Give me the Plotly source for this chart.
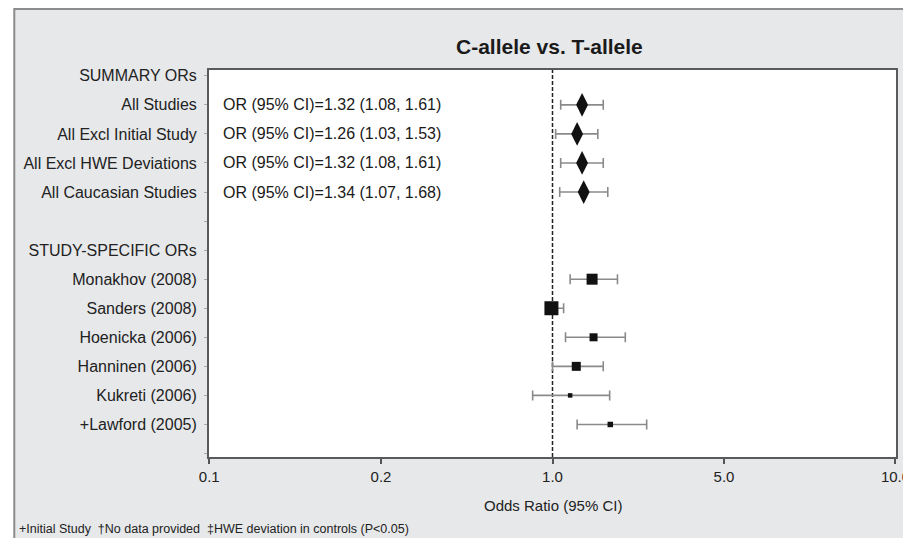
import plotly.graph_objects as go

# ---------------- data ----------------
row_labels = ["SUMMARY ORs", "All Studies", "All Excl Initial Study",
              "All Excl HWE Deviations", "All Caucasian Studies", "",
              "STUDY-SPECIFIC ORs", "Monakhov (2008)", "Sanders (2008)",
              "Hoenicka (2006)", "Hanninen (2006)", "Kukreti (2006)",
              "+Lawford (2005)", ""]

summary_names = ["All Studies", "All Excl Initial Study",
                 "All Excl HWE Deviations", "All Caucasian Studies"]
summary_or = [1.32, 1.26, 1.32, 1.34]
summary_lo = [1.08, 1.03, 1.08, 1.07]
summary_hi = [1.61, 1.53, 1.61, 1.68]

study_names = ["Monakhov (2008)", "Sanders (2008)", "Hoenicka (2006)",
               "Hanninen (2006)", "Kukreti (2006)", "+Lawford (2005)"]
study_or = [1.45, 0.99, 1.47, 1.25, 1.18, 1.72]
study_lo = [1.18, 0.94, 1.13, 1.00, 0.83, 1.26]
study_hi = [1.84, 1.11, 1.98, 1.61, 1.71, 2.42]
study_weight = [0.70, 1.0, 0.40, 0.50, 0.05, 0.15]

x_tick_vals = [0.0399, 0.2, 1.0, 5.0, 25.0]
x_tick_text = ["0.1", "0.2", "1.0", "5.0", "10.0"]

title_text = "C-allele vs. T-allele"
x_title = "Odds Ratio (95% CI)"
footnote = "+Initial Study  \u2020No data provided  \u2021HWE deviation in controls (P<0.05)"

# ---------------- figure ----------------
# The page body keeps its default 8 px margin (figure origin at window (8, 8));
# the page is 8 px wider than the window, so horizontal positions are
# pre-stretched by K to land where intended in the captured picture.
OFF = 8
W, H = 911, 538
K = (W + OFF) / W
def fx(v):          # window x -> figure x
    return v * K - OFF
def fy(v):          # window y -> figure y
    return v - OFF

PL, PR, PT, PB = 207, 902, 70, 457          # plot box in window pixels
ML = round(fx(PL), 1)
MR = round(W - fx(PR), 1)
MT = fy(PT)
MB = H - fy(PB)
FONT = "Liberation Sans, Arial, Helvetica, sans-serif"

pw, ph = W - ML - MR, H - MT - MB
def px_x(v):        # window x -> paper x
    return (fx(v) - ML) / pw
def px_y(v):        # window y -> paper y
    return (H - MB - fy(v)) / ph

row_index = {name: i for i, name in enumerate(row_labels) if name}

fig = go.Figure()

sy = [row_index[n] for n in summary_names]
fig.add_trace(go.Scatter(
    x=summary_or, y=sy, mode="markers",
    marker=dict(symbol="diamond-tall", size=17, color="#111111", opacity=1,
                line=dict(width=0)),
    error_x=dict(type="data", symmetric=False,
                 array=[h - o for h, o in zip(summary_hi, summary_or)],
                 arrayminus=[o - l for o, l in zip(summary_or, summary_lo)],
                 color="#8a8a8a", thickness=1.6, width=5),
    hoverinfo="skip", showlegend=False))

ty = [row_index[n] for n in study_names]
fig.add_trace(go.Scatter(
    x=study_or, y=ty, mode="markers",
    marker=dict(symbol="square", size=[4 + 10 * w for w in study_weight],
                color="#111111", opacity=1, line=dict(width=0)),
    error_x=dict(type="data", symmetric=False,
                 array=[h - o for h, o in zip(study_hi, study_or)],
                 arrayminus=[o - l for o, l in zip(study_or, study_lo)],
                 color="#8a8a8a", thickness=1.6, width=5),
    hoverinfo="skip", showlegend=False))

# OR text annotations
for name, o, l, h in zip(summary_names, summary_or, summary_lo, summary_hi):
    fig.add_annotation(xref="paper", yref="y", x=px_x(219), y=row_index[name],
                       text=f"OR (95% CI)={o:.2f} ({l:.2f}, {h:.2f})",
                       showarrow=False, xanchor="left", yanchor="middle",
                       font=dict(family=FONT, size=16, color="#1a1a1a"))

# reference line at OR = 1
fig.add_shape(type="line", xref="x", yref="paper", x0=1, x1=1, y0=0, y1=1,
              line=dict(color="#222222", width=1.5, dash="4px,2px"), layer="below")

# outer panel: white strips outside the gray frame, and frame border lines
fig.add_shape(type="rect", xref="paper", yref="paper",
              x0=px_x(-20), x1=px_x(10), y0=px_y(H + 20), y1=px_y(-20),
              fillcolor="white", line=dict(width=0), layer="below")
fig.add_shape(type="rect", xref="paper", yref="paper",
              x0=px_x(-20), x1=px_x(W + 20), y0=px_y(8), y1=px_y(-20),
              fillcolor="white", line=dict(width=0), layer="below")
fig.add_shape(type="rect", xref="paper", yref="paper",
              x0=px_x(910), x1=px_x(W + 20), y0=px_y(H + 20), y1=px_y(-20),
              fillcolor="white", line=dict(width=0), layer="below")
fig.add_shape(type="line", xref="paper", yref="paper",
              x0=px_x(10), x1=px_x(10), y0=px_y(H + 20), y1=px_y(8),
              line=dict(color="#8c8c8c", width=2), layer="below")
fig.add_shape(type="line", xref="paper", yref="paper",
              x0=px_x(10), x1=px_x(910), y0=px_y(9), y1=px_y(9),
              line=dict(color="#8c8c8c", width=2), layer="below")
fig.add_shape(type="line", xref="paper", yref="paper",
              x0=px_x(910), x1=px_x(910), y0=px_y(H + 20), y1=px_y(8),
              line=dict(color="#c8c8c8", width=1), layer="below")

# title
fig.add_annotation(xref="paper", yref="paper", x=px_x(551), y=px_y(47),
                   text=f"<b>{title_text}</b>", showarrow=False,
                   xanchor="center", yanchor="middle",
                   font=dict(family=FONT, size=21, color="#1a1a1a"))
# x-axis title
fig.add_annotation(xref="paper", yref="paper", x=0.5, y=px_y(505),
                   text=x_title, showarrow=False,
                   xanchor="center", yanchor="middle",
                   font=dict(family=FONT, size=15, color="#222222"))
# footnote
fig.add_annotation(xref="paper", yref="paper", x=px_x(13), y=px_y(529),
                   text=footnote, showarrow=False,
                   xanchor="left", yanchor="middle",
                   font=dict(family=FONT, size=12.5, color="#222222"))

fig.update_layout(
    width=W, height=H,
    margin=dict(l=ML, r=MR, t=MT, b=MB, pad=0),
    paper_bgcolor="#e7e8ea", plot_bgcolor="white",
    font=dict(family=FONT, size=15, color="#222222"),
    showlegend=False,
)
fig.update_xaxes(type="log", range=[-1.4, 1.4],
                 tickvals=x_tick_vals, ticktext=x_tick_text,
                 ticklabeloverflow="allow",
                 ticks="outside", ticklen=5, tickwidth=1.5, tickcolor="#555555",
                 showgrid=False, zeroline=False,
                 showline=True, linecolor="#5a5a5a", linewidth=2, mirror=True,
                 tickfont=dict(family=FONT, size=15, color="#222222"))
fig.update_yaxes(range=[13.12, -0.2],
                 tickvals=list(range(len(row_labels))), ticktext=row_labels,
                 ticks="outside", ticklen=3, tickwidth=1, tickcolor="#aaaaaa",
                 ticklabelstandoff=4,
                 showgrid=False, zeroline=False,
                 showline=True, linecolor="#5a5a5a", linewidth=2, mirror=True,
                 tickfont=dict(family=FONT, size=16, color="#222222"))

fig.write_html("out.html", config={"displayModeBar": False})
